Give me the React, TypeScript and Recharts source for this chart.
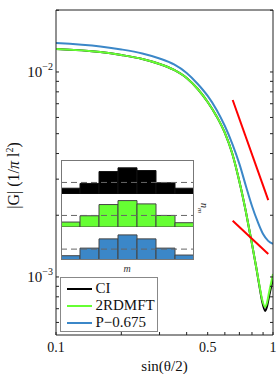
import { Bar, BarChart, Line, LineChart, ReferenceLine, XAxis, YAxis } from 'recharts'

const FONT = '"Liberation Serif", "Times New Roman", serif'

const CI_COLOR = '#000000'
const RDM_COLOR = '#66ff33'
const P_COLOR = '#3b87c8'
const SLOPE_COLOR = '#ff0000'

// |G| vs sin(theta/2)
const qBlue = [0.1, 0.16, 0.2, 0.25, 0.3, 0.35, 0.4, 0.45, 0.5, 0.55, 0.6, 0.65, 0.7, 0.75, 0.8, 0.85, 0.9, 0.95, 1.0]
const gBlue = [
  0.01385, 0.01332, 0.01288, 0.01231, 0.01164, 0.01088, 0.00989, 0.00874, 0.00764, 0.00653, 0.00545, 0.00445, 0.00356,
  0.00278, 0.00222, 0.00186, 0.00162, 0.0015, 0.00145,
]

const qGreen = [
  0.1, 0.16, 0.2, 0.25, 0.3, 0.35, 0.4, 0.45, 0.5, 0.55, 0.6, 0.65, 0.7, 0.73, 0.75, 0.78, 0.8, 0.84, 0.87, 0.89, 0.92,
  0.94, 0.96, 0.98, 1.0,
]
const gGreen = [
  0.01295, 0.01252, 0.0121, 0.01157, 0.01094, 0.01023, 0.00935, 0.00826, 0.00714, 0.00607, 0.00504, 0.00398, 0.00292,
  0.00239, 0.00208, 0.00167, 0.00145, 0.00109, 0.000884, 0.000781, 0.000714, 0.000755, 0.000845, 0.000935, 0.001034,
]
const gCI = [
  0.01295, 0.01252, 0.0121, 0.01157, 0.01094, 0.01023, 0.00935, 0.00826, 0.00714, 0.00607, 0.00504, 0.00398, 0.00292,
  0.00239, 0.00208, 0.00167, 0.00145, 0.00109, 0.000874, 0.000764, 0.000683, 0.000722, 0.000808, 0.000894, 0.000978,
]

// power-law guides
const qGuide = [0.652, 0.951]
const gGuide3 = [0.0073, 0.00237]
const gGuide1 = [0.00188, 0.001295]

const xTicks = [0.1, 0.2, 0.3, 0.4, 0.5, 0.6, 0.7, 0.8, 0.9, 1]
const xLabels = [0.1, 0.5, 1]
const yTicks = [
  0.0006, 0.0007, 0.0008, 0.0009, 0.001, 0.002, 0.003, 0.004, 0.005, 0.006, 0.007, 0.008, 0.009, 0.01, 0.02,
]
const yDomain = [0.000521, 0.02006]

// inset: occupation n_m per m
const mBins = [-3, -2, -1, 0, 1, 2, 3]
const nCI = [0.17, 0.31, 0.66, 0.77, 0.69, 0.33, 0.17]
const nRDM = [0.15, 0.34, 0.68, 0.8, 0.7, 0.35, 0.13]
const nP = [0.13, 0.36, 0.64, 0.76, 0.64, 0.36, 0.15]
const avgCI = 0.34
const avgRDM = 0.35
const avgP = 0.33

const series = [
  { name: 'CI', color: CI_COLOR, q: qGreen, g: gCI },
  { name: '2RDMFT', color: RDM_COLOR, q: qGreen, g: gGreen },
  { name: 'P\u22120.675', color: P_COLOR, q: qBlue, g: gBlue },
]

const toPoints = (q: number[], g: number[]) => q.map((x, i) => ({ q: x, g: g[i] }))

const EmptyTick = () => <g />

const XTick = ({ x, y, payload }: any) => {
  if (!xLabels.includes(payload.value)) return <g />
  return (
    <text x={x} y={y + 12} textAnchor="middle" fontSize={14} fill="#111" fontFamily={FONT}>
      {payload.value}
    </text>
  )
}

const YTick = ({ x, y, payload }: any) => {
  const exp = Math.round(Math.log10(payload.value))
  if (Math.abs(payload.value - Math.pow(10, exp)) > 1e-12) return <g />
  return (
    <text x={x} y={y + 5} textAnchor="end" fontSize={15} fill="#111" fontFamily={FONT}>
      10
      <tspan dy={-7} fontSize={10}>
        {'\u2212' + Math.abs(exp)}
      </tspan>
    </text>
  )
}

const YLabel = (props: any) => {
  const vb = props.viewBox || { x: 0, y: 10, width: 56, height: 325 }
  const cx = vb.x + 19
  const cy = vb.y + vb.height / 2 + 3
  return (
    <text transform={`translate(${cx},${cy}) rotate(-90)`} textAnchor="middle" fontSize={16} fill="#111" fontFamily={FONT}>
      |G| (1/<tspan fontStyle="italic">π</tspan> l<tspan dy={-6} fontSize={10}>2</tspan>
      <tspan dy={6}>)</tspan>
    </text>
  )
}

function HistPanel({
  values,
  avg,
  color,
  edge,
  height,
}: {
  values: number[]
  avg: number
  color: string
  edge: string
  height: number
}) {
  const data = mBins.map((m, i) => ({ m, n: values[i] }))
  return (
    <BarChart width={133} height={height} data={data} margin={{ top: 0, right: 0, bottom: 0, left: 0 }} barCategoryGap={0} barGap={0}>
      <XAxis dataKey="m" hide />
      <YAxis hide domain={[0, 1]} />
      <Bar dataKey="n" fill={color} stroke={edge} strokeWidth={1} isAnimationActive={false} />
      <ReferenceLine y={avg} stroke="#666" strokeDasharray="6 4" strokeWidth={1} />
    </BarChart>
  )
}

export default function App() {
  return (
    <div
      style={{ position: 'absolute', left: 0, top: 0, width: 280, height: 374, background: '#fff', fontFamily: FONT }}
    >
      <LineChart width={280} height={374} margin={{ top: 0, right: 0, bottom: 0, left: 0 }}>
        <XAxis
          dataKey="q"
          type="number"
          scale="log"
          domain={[0.1, 1]}
          ticks={xTicks}
          interval={0}
          allowDataOverflow
          height={39}
          stroke="#222"
          tickSize={-3}
          tickMargin={8}
          tick={XTick}
          label={{ value: 'sin(θ/2)', position: 'insideBottom', offset: 3, fontSize: 15, fill: '#111', fontFamily: FONT }}
        />
        <XAxis
          xAxisId="top"
          orientation="top"
          type="number"
          scale="log"
          domain={[0.1, 1]}
          ticks={xTicks}
          interval={0}
          allowDataOverflow
          height={10}
          stroke="#222"
          tickSize={-3}
          tick={EmptyTick}
        />
        <YAxis
          type="number"
          scale="log"
          domain={yDomain}
          ticks={yTicks}
          interval={0}
          allowDataOverflow
          width={56}
          stroke="#222"
          tickSize={-3}
          tickMargin={6}
          tick={YTick}
          label={{ content: (p: any) => <YLabel viewBox={p.viewBox} /> }}
        />
        <YAxis
          yAxisId="right"
          orientation="right"
          type="number"
          scale="log"
          domain={yDomain}
          ticks={yTicks}
          interval={0}
          allowDataOverflow
          width={7}
          stroke="#222"
          tickSize={-3}
          tick={EmptyTick}
        />
        {series.map((s) => (
          <Line
            key={s.name}
            data={toPoints(s.q, s.g)}
            dataKey="g"
            type="monotone"
            stroke={s.color}
            strokeWidth={2}
            dot={false}
            isAnimationActive={false}
          />
        ))}
        <Line data={toPoints(qGuide, gGuide3)} dataKey="g" stroke={SLOPE_COLOR} strokeWidth={2} dot={false} isAnimationActive={false} />
        <Line data={toPoints(qGuide, gGuide1)} dataKey="g" stroke={SLOPE_COLOR} strokeWidth={2} dot={false} isAnimationActive={false} />
      </LineChart>

      {/* inset histograms */}
      <div style={{ position: 'absolute', left: 61, top: 160, width: 133, height: 100 }}>
        <div style={{ position: 'absolute', left: 0, top: 0 }}>
          <HistPanel values={nCI} avg={avgCI} color={CI_COLOR} edge="#111" height={34} />
        </div>
        <div style={{ position: 'absolute', left: 0, top: 34 }}>
          <HistPanel values={nRDM} avg={avgRDM} color={RDM_COLOR} edge="#444" height={33} />
        </div>
        <div style={{ position: 'absolute', left: 0, top: 67 }}>
          <HistPanel values={nP} avg={avgP} color={P_COLOR} edge="#444" height={33} />
        </div>
        <div
          style={{
            position: 'absolute',
            left: 0,
            top: 0,
            width: 133,
            height: 100,
            border: '1px solid #777',
            boxSizing: 'border-box',
            pointerEvents: 'none',
          }}
        />
      </div>
      <div
        style={{ position: 'absolute', left: 122, top: 263, width: 10, textAlign: 'center', fontSize: 10, fontStyle: 'italic', color: '#333' }}
      >
        m
      </div>
      <div
        style={{
          position: 'absolute',
          left: 194,
          top: 200,
          width: 16,
          textAlign: 'center',
          fontSize: 10,
          fontStyle: 'italic',
          color: '#333',
          transform: 'rotate(90deg)',
          lineHeight: '12px',
        }}
      >
        n<sub style={{ fontSize: 7 }}>m</sub>
      </div>

      {/* legend */}
      <div
        style={{
          position: 'absolute',
          left: 60,
          top: 277,
          width: 98,
          height: 55,
          border: '1.5px solid #888',
          background: '#fff',
          boxSizing: 'border-box',
          paddingTop: 2,
        }}
      >
        {series.map((s) => (
          <div key={s.name} style={{ display: 'flex', alignItems: 'center', height: 17 }}>
            <span style={{ display: 'inline-block', width: 25, height: 2, background: s.color, marginLeft: 5.5, marginRight: 4 }} />
            <span style={{ fontSize: 15, lineHeight: '17px', color: '#111' }}>{s.name}</span>
          </div>
        ))}
      </div>
    </div>
  )
}
